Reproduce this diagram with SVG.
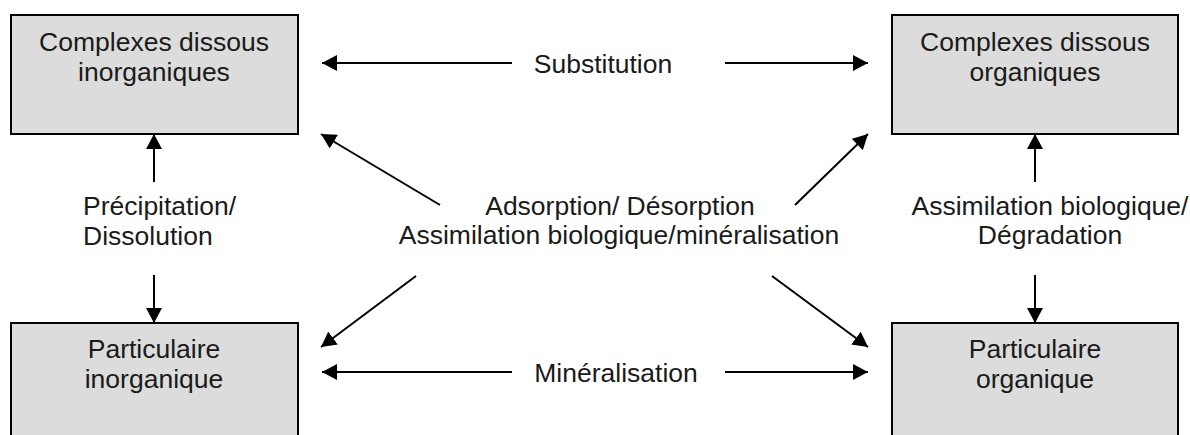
<svg xmlns="http://www.w3.org/2000/svg" width="1190" height="435" viewBox="0 0 1190 435">
<defs>
<marker id="ah" markerUnits="userSpaceOnUse" markerWidth="16" markerHeight="16" refX="15" refY="8" orient="auto">
<path d="M0,0 L15,8 L0,16 z" fill="#000"/>
</marker>
<style>
.box{fill:#dcdcdc;stroke:#000;stroke-width:2}
.t{font-family:"Liberation Sans",Arial,sans-serif;font-size:26.5px;fill:#1a1a1a}
.c{text-anchor:middle}
.ln{stroke:#000;stroke-width:2;fill:none;marker-end:url(#ah)}
</style>
</defs>
<rect width="1190" height="435" fill="#fff"/>
<g id="node-cdi">
<rect class="box" x="11" y="15" width="287" height="119"/>
<text class="t c" x="154" y="51">Complexes dissous</text>
<text class="t c" x="154" y="81">inorganiques</text>
</g>
<g id="node-cdo">
<rect class="box" x="892" y="15" width="286" height="119"/>
<text class="t c" x="1035" y="51">Complexes dissous</text>
<text class="t c" x="1035" y="81">organiques</text>
</g>
<g id="node-pi">
<rect class="box" x="11" y="323" width="287" height="130"/>
<text class="t c" x="154" y="358">Particulaire</text>
<text class="t c" x="154" y="388">inorganique</text>
</g>
<g id="node-po">
<rect class="box" x="892" y="323" width="286" height="130"/>
<text class="t c" x="1035" y="358">Particulaire</text>
<text class="t c" x="1035" y="388">organique</text>
</g>
<g id="connectors">
<line class="ln" x1="512" y1="63" x2="322" y2="63"/>
<line class="ln" x1="725" y1="63" x2="868" y2="63"/>
<line class="ln" x1="512" y1="372" x2="322" y2="372"/>
<line class="ln" x1="725" y1="372" x2="868" y2="372"/>
<line class="ln" x1="154" y1="182" x2="154" y2="134"/>
<line class="ln" x1="154" y1="275" x2="154" y2="323"/>
<line class="ln" x1="1035" y1="182" x2="1035" y2="134"/>
<line class="ln" x1="1035" y1="275" x2="1035" y2="323"/>
<line class="ln" x1="440" y1="205" x2="321" y2="134"/>
<line class="ln" x1="795" y1="205" x2="868" y2="134"/>
<line class="ln" x1="416" y1="276" x2="321" y2="347"/>
<line class="ln" x1="772" y1="276" x2="868" y2="347"/>
</g>
<g id="labels">
<text class="t c" x="603" y="73">Substitution</text>
<text class="t c" x="616" y="382">Minéralisation</text>
<text class="t" x="83" y="215">Précipitation/</text>
<text class="t" x="83" y="245">Dissolution</text>
<text class="t c" x="1050" y="215">Assimilation biologique/</text>
<text class="t c" x="1050" y="244">Dégradation</text>
<text class="t c" x="620" y="215">Adsorption/ Désorption</text>
<text class="t c" x="619" y="244">Assimilation biologique/minéralisation</text>
</g>
</svg>
